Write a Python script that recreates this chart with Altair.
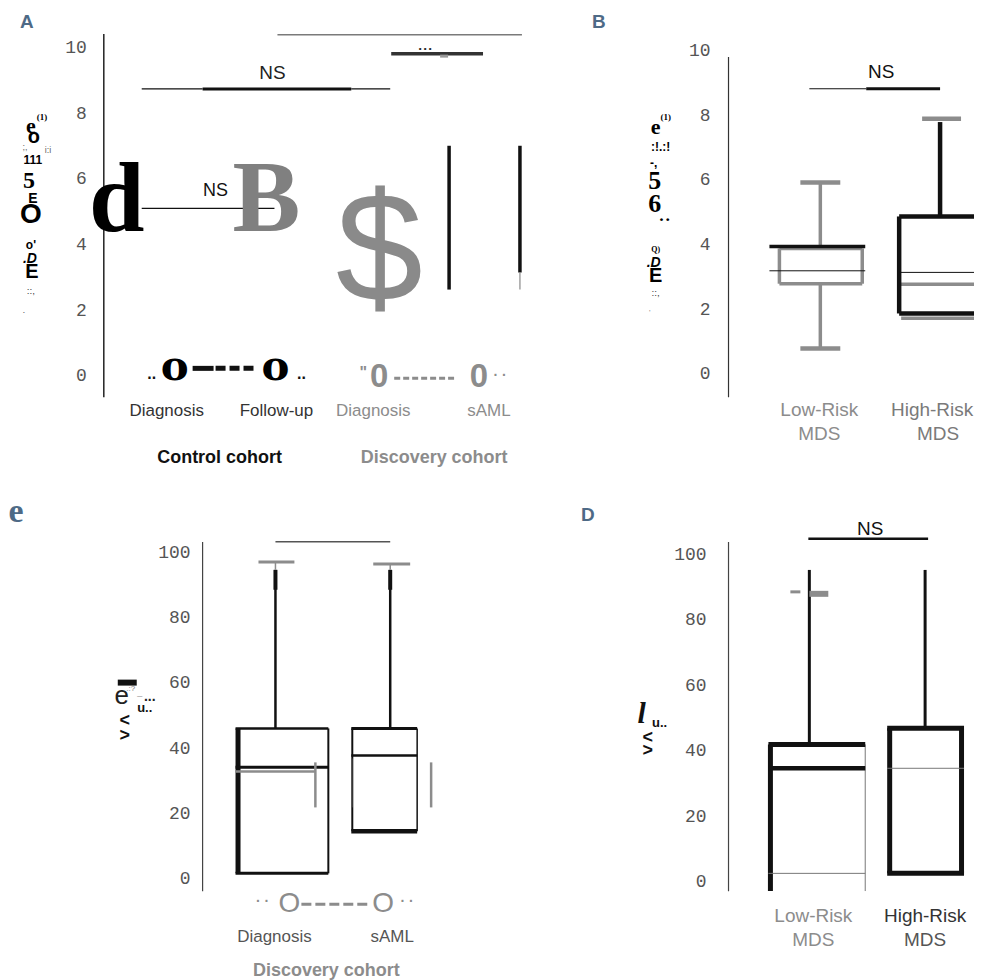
import altair as alt
import pandas as pd

SANS = "Liberation Sans"
SERIF = "Liberation Serif"
DSERIF = "DejaVu Serif"
MONO = "Liberation Mono"
BLUE = "#4e6a86"
GRAY = "#8c8c8c"
INK = "#111111"

# ---------------- values ----------------
# Panel A
A_TICKS = [0, 2, 4, 6, 8, 10]
A_GROUPS = ["Diagnosis", "Follow-up", "Diagnosis", "sAML"]
A_COHORTS = ["Control cohort", "Discovery cohort"]
A_DISC_HIGH = [7.02, 7.02]
A_DISC_SPLIT = [2.64, 3.16]
A_DISC_LOW = [2.64, 2.64]
A_CTRL_LEVEL = 0.24
A_DISC_LEVEL = -0.06
A_NS_INNER = 5.11
A_NS_OUTER = 8.75
A_SIG = 9.82
A_TOP = 10.40

# Panel B
B_TICKS = [0, 2, 4, 6, 8, 10]
B_GROUPS = [("Low-Risk", "MDS"), ("High-Risk", "MDS")]
B_Q1 = [2.80, 1.88]
B_Q3 = [3.89, 4.88]
B_MEDIAN = [3.20, 3.15]
B_LOW = [0.80, 1.73]
B_HIGH = [5.93, 7.80]
B_CAP_HIGH = [5.93, 7.90]
B_EXTRA_BLACK = 3.95
B_EXTRA_GRAY = 2.78
B_NS = 8.83

# Panel C
C_TICKS = [0, 20, 40, 60, 80, 100]
C_GROUPS = ["Diagnosis", "sAML"]
C_Q1 = [1.8, 14.7]
C_Q3 = [46.2, 46.2]
C_MEDIAN = [34.3, 37.9]
C_GRAY_MEDIAN = 33.0
C_HIGH = [94.8, 94.8]
C_THICK_END = [88.7, 88.7]
C_CAP = [97.2, 96.6]
C_GRAY_SEG = [35.8, 22.0]
C_BRACKET = 103.4

# Panel D
D_TICKS = [0, 20, 40, 60, 80, 100]
D_GROUPS = [("Low-Risk", "MDS"), ("High-Risk", "MDS")]
D_Q1 = [-2.7, 2.7]
D_Q3 = [42.1, 47.0]
D_MEDIAN = [34.8, 34.8]
D_LOW_LINE = 2.7
D_HIGH = [95.4, 95.4]
D_GRAY_CAP = [88.7, 88.1]
D_NS = 104.9

# ---------------- layout (panel frames: left, top, width, height, zero px, px per unit) ----
FA = (8, 8, 582, 472, 376, 32.9)
FB = (590, 8, 387, 472, 374, 32.4)
FC = (8, 480, 582, 492, 880, 3.27)
FD = (590, 480, 387, 492, 883, 3.28)


def conv(frame):
    z, k = frame[4], frame[5]
    return lambda p: (z - p) / k


def T(x, y, t, s, c, font=SANS, weight="normal", style="normal", align="center", baseline="middle"):
    return dict(x=x, y=y, t=t, s=s, c=c, font=font, weight=weight, style=style,
                align=align, baseline=baseline)


def R(x, x2, y, y2, c, w):
    return dict(x=x, x2=x2, y=y, y2=y2, c=c, w=w)


def H(x, x2, y, c, w):
    return R(x, x2, y, y, c, w)


def V(x, y, y2, c, w):
    return R(x, x, y, y2, c, w)


def panel(frame, rules, dashes, texts):
    ox, oy, W, Ht, z, k = frame
    xs = alt.Scale(domain=[ox, ox + W], nice=False, zero=False)
    ys = alt.Scale(domain=[(z - oy - Ht) / k, (z - oy) / k], nice=False, zero=False)
    layers = []
    rd = pd.DataFrame(rules)
    layers.append(alt.Chart(rd).mark_rule(strokeCap="butt").encode(
        x=alt.X("x:Q", scale=xs, axis=None), x2=alt.X2("x2"),
        y=alt.Y("y:Q", scale=ys, axis=None), y2=alt.Y2("y2"),
        color=alt.Color("c:N", scale=None),
        strokeWidth=alt.StrokeWidth("w:Q", scale=None)))
    for (x, x2, y, c, w, dash) in dashes:
        dd = pd.DataFrame([dict(x=x, x2=x2, y=y)])
        layers.append(alt.Chart(dd).mark_rule(strokeDash=dash, color=c, strokeWidth=w).encode(
            x=alt.X("x:Q", scale=xs, axis=None), x2=alt.X2("x2"),
            y=alt.Y("y:Q", scale=ys, axis=None)))
    td = pd.DataFrame(texts)
    for key, g in td.groupby(["font", "weight", "style", "align", "baseline"]):
        f, wgt, st, al, bl = key
        layers.append(alt.Chart(g[["x", "y", "t", "s", "c"]]).mark_text(
            font=f, fontWeight=wgt, fontStyle=st, align=al, baseline=bl).encode(
            x=alt.X("x:Q", scale=xs, axis=None), y=alt.Y("y:Q", scale=ys, axis=None),
            text="t:N", size=alt.Size("s:Q", scale=None), color=alt.Color("c:N", scale=None)))
    return alt.layer(*layers).properties(width=W, height=Ht)


# ================= Panel A =================
va = conv(FA)
ra = [
    V(104, va(33), va(397), "#222", 1.5),
    H(142, 275, A_NS_INNER, INK, 1.2),
    H(142, 203, A_NS_OUTER, INK, 1.2), H(203, 352, A_NS_OUTER, INK, 3), H(352, 391, A_NS_OUTER, INK, 1.2),
    H(278, 523, A_TOP, "#7a7a7a", 1.5),
    H(392, 484, A_SIG, "#333", 3.5), H(441, 449, A_SIG - 0.07, "#999", 3),
    H(193, 214, A_CTRL_LEVEL, INK, 5),
]
for i, x in enumerate([450, 521]):
    ra.append(V(x, A_DISC_HIGH[i], A_DISC_SPLIT[i], INK, 3.5))
    if A_DISC_SPLIT[i] > A_DISC_LOW[i]:
        ra.append(V(x, A_DISC_SPLIT[i], A_DISC_LOW[i], "#888", 1.2))
da = [(216, 258, A_CTRL_LEVEL, INK, 5, [10, 4]), (395, 458, A_DISC_LEVEL, GRAY, 3, [6, 3])]
ta = [T(87, t, str(t), 18, "#555", MONO, align="right") for t in A_TICKS]
ta += [
    T(27, va(21), "A", 19, BLUE, SANS, "bold"),
    T(117, va(230), "d", 100, "#000", SERIF, "bold", baseline="alphabetic"),
    T(267, va(230), "B", 102, "#808080", SERIF, "bold", baseline="alphabetic"),
    T(380, va(301), "$", 157, "#8a8a8a", SANS, baseline="alphabetic"),
    T(216, va(190), "NS", 18, INK),
    T(273, va(72), "NS", 19, "#222"),
    T(426, va(48), "•  •  •", 8, "#222", SANS, "bold"),
    T(175, va(380), "o", 42, "#000", DSERIF, "bold", baseline="alphabetic"),
    T(276, va(380), "o", 42, "#000", DSERIF, "bold", baseline="alphabetic"),
    T(152, va(379), "..", 16, INK, SANS, "bold", baseline="alphabetic"),
    T(302, va(379), "..", 16, INK, SANS, "bold", baseline="alphabetic"),
    T(364, va(378), '"', 16, GRAY, SANS, "bold", baseline="alphabetic"),
    T(380, va(387), "0", 33, GRAY, SANS, "bold", baseline="alphabetic"),
    T(480, va(387), "0", 33, GRAY, SANS, "bold", baseline="alphabetic"),
    T(501, va(376), "· ·", 14, GRAY, SANS, "bold"),
]
for x, g, c in zip([167, 277, 374, 490], A_GROUPS, ["#333", "#333", GRAY, GRAY]):
    ta.append(T(x, va(416), g, 17, c, baseline="alphabetic"))
ta.append(T(220, va(463), A_COHORTS[0], 18, INK, SANS, "bold", baseline="alphabetic"))
ta.append(T(435, va(463), A_COHORTS[1], 18, GRAY, SANS, "bold", baseline="alphabetic"))
ta += [
    T(31, va(132), "e", 22, "#000", SERIF, "bold", baseline="alphabetic"),
    T(42, va(116), "(1)", 9, "#000", SERIF, "bold"),
    T(34, va(142), "o", 20, "#000", SANS, "bold", baseline="alphabetic"),
    T(25, va(146), ";,", 9, "#666"),
    T(48, va(149), "i:i", 9, "#666"),
    T(33, va(163), "111", 12, "#000", SANS, "bold", baseline="alphabetic"),
    T(29, va(187), "5", 24, "#000", SERIF, "bold", baseline="alphabetic"),
    T(33, va(202), "E", 14, "#000", SANS, "bold", baseline="alphabetic"),
    T(31, va(222), "O", 28, "#000", SANS, "bold", baseline="alphabetic"),
    T(31, va(244), "o'", 12, "#000", SANS, "bold"),
    T(30, va(263), ".D", 14, "#000", SANS, "bold", "italic", baseline="alphabetic"),
    T(32, va(278), "E", 20, "#000", SANS, "bold", baseline="alphabetic"),
    T(31, va(291), "::,", 10, "#444"),
    T(24, va(310), ".", 10, "#666"),
]
pA = panel(FA, ra, da, ta)

# ================= Panel B =================
vb = conv(FB)
rb = [V(730, vb(56), vb(397), "#333", 1.2)]
# Low-Risk (gray box)
L0, L1, LX = 781, 864, 822
rb += [
    H(L0, L1, B_Q3[0], GRAY, 3.5), H(L0, L1, B_Q1[0], GRAY, 3.5),
    V(L0, B_Q1[0], B_Q3[0], GRAY, 3.5), V(L1, B_Q1[0], B_Q3[0], GRAY, 3.5),
    V(LX, B_EXTRA_BLACK, B_HIGH[0], GRAY, 3.5), H(802, 842, B_CAP_HIGH[0], GRAY, 4.5),
    V(LX, B_Q1[0], B_LOW[0], GRAY, 3.5), H(802, 842, B_LOW[0], GRAY, 4.5),
    H(771, 867, B_EXTRA_BLACK, INK, 3.5),
    H(771, 867, B_MEDIAN[0], INK, 1),
]
# High-Risk (black box, cut at the right border)
H0, H1, HX = 901, 976, 942
rb += [
    H(H0 + 2, H1, B_LOW[1], GRAY, 3.5),
    H(H0, H1, B_EXTRA_GRAY, GRAY, 3.5),
    H(H0, H1, B_Q3[1], INK, 4.5), H(H0, H1, B_Q1[1], INK, 4.5),
    V(H0, B_Q1[1], B_Q3[1], INK, 4.5),
    H(H0, H1, B_MEDIAN[1], INK, 1),
    V(HX, B_Q3[1], B_HIGH[1], INK, 4.5), H(924, 963, B_CAP_HIGH[1], GRAY, 4.5),
    H(811, 868, B_NS, INK, 1.2), H(868, 942, B_NS, INK, 3),
]
tb = [T(712, t, str(t), 18, "#555", MONO, align="right") for t in B_TICKS]
tb += [
    T(600, vb(21), "B", 19, BLUE, SANS, "bold"),
    T(883, vb(71), "NS", 19, INK),
    T(821, vb(416), B_GROUPS[0][0], 19, GRAY, baseline="alphabetic"),
    T(821, vb(440), B_GROUPS[0][1], 19, GRAY, baseline="alphabetic"),
    T(934, vb(416), B_GROUPS[1][0], 19, "#7a7a7a", baseline="alphabetic"),
    T(940, vb(440), B_GROUPS[1][1], 19, "#7a7a7a", baseline="alphabetic"),
    T(657, vb(133), "e", 22, "#000", SERIF, "bold", baseline="alphabetic"),
    T(667, vb(116), "(1)", 9, "#000", SERIF, "bold"),
    T(662, vb(150), ":!.:!", 12, "#000", SANS, "bold", baseline="alphabetic"),
    T(655, vb(166), "-,", 12, "#000", SANS, "bold", baseline="alphabetic"),
    T(656, vb(188), "5", 26, "#000", SERIF, "bold", baseline="alphabetic"),
    T(656, vb(211), "6", 26, "#000", SERIF, "bold", baseline="alphabetic"),
    T(666, vb(219), "•  •", 10, "#000", SANS, "bold"),
    T(657, vb(249), "Q)", 8, "#000", SERIF, "bold"),
    T(655, vb(267), ".D", 14, "#000", SANS, "bold", "italic", baseline="alphabetic"),
    T(657, vb(282), "E", 20, "#000", SANS, "bold", baseline="alphabetic"),
    T(657, vb(293), "::,", 10, "#444"),
    T(651, vb(313), "'", 8, "#888"),
]
pB = panel(FB, rb, [], tb)

# ================= Panel C =================
vc = conv(FC)
rc = [V(203, vc(542), vc(892), "#444", 1.2), H(276, 391, C_BRACKET, "#555", 1.5)]
boxes_c = [(236, 329, 276, [2.5, 3, 5, 2], 259, 295), (352, 418, 391, [3, 4.5, 2, 1.5], 374, 411)]
for i, (x0, x1, xm, w, c0, c1) in enumerate(boxes_c):
    rc += [
        H(x0, x1, C_Q3[i], INK, w[0]), H(x0, x1, C_Q1[i], INK, w[1]),
        V(x0 + w[2] / 2, C_Q1[i], C_Q3[i], INK, w[2]), V(x1, C_Q1[i], C_Q3[i], INK, w[3]),
        V(xm, C_Q3[i], C_HIGH[i], INK, 2.5), V(xm, C_HIGH[i], C_THICK_END[i], INK, 4),
        V(xm, C_CAP[i], C_HIGH[i], GRAY, 1.5), H(c0, c1, C_CAP[i], GRAY, 3),
    ]
rc += [
    H(236, 316, C_GRAY_MEDIAN, GRAY, 2.5),
    H(236, 329, C_MEDIAN[0], INK, 3), H(352, 418, C_MEDIAN[1], INK, 2.5),
    V(316, C_GRAY_SEG[0], C_GRAY_SEG[1], GRAY, 2.5), V(432, C_GRAY_SEG[0], C_GRAY_SEG[1], GRAY, 2.5),
    V(354, 37.0, 22.0, "#bbbbbb", 1),
    H(118, 137, vc(683), INK, 6),
]
dc = [(302, 372, vc(905), GRAY, 3, [10, 4])]
tc = [T(191, t, str(t), 18, "#555", MONO, align="right") for t in C_TICKS]
tc += [
    T(16, vc(522), "e", 34, BLUE, SERIF, "bold", baseline="alphabetic"),
    T(263, vc(903), "· ·", 14, GRAY, SANS, "bold"),
    T(290, vc(913), "O", 28, GRAY, baseline="alphabetic"),
    T(384, vc(913), "O", 28, GRAY, baseline="alphabetic"),
    T(408, vc(903), "· ·", 14, GRAY, SANS, "bold"),
    T(275, vc(943), C_GROUPS[0], 17, "#555", baseline="alphabetic"),
    T(393, vc(943), C_GROUPS[1], 17, "#555", baseline="alphabetic"),
    T(327, vc(977), "Discovery cohort", 18, GRAY, SANS, "bold", baseline="alphabetic"),
    T(122, vc(704), "e", 26, "#222", baseline="alphabetic"),
    T(131, vc(689), ".:?", 8, "#777"),
    T(140, vc(692), "_", 9, "#999"),
    T(150, vc(701), "...", 14, "#222", SANS, "bold", baseline="alphabetic"),
    T(145, vc(712), "u..", 13, "#111", SANS, "bold", baseline="alphabetic"),
    T(125, vc(721), "<", 18, "#111", SANS, "bold"),
    T(125, vc(737), ">", 18, "#111", SANS, "bold"),
]
pC = panel(FC, rc, dc, tc)

# ================= Panel D =================
vd = conv(FD)
rd_ = [
    V(730, vd(542), vd(892), "#444", 1.2),
    H(810, 930, D_NS, INK, 2.5),
    # Low-Risk
    V(772, D_Q1[0], D_Q3[0], INK, 5), V(867, D_Q1[0], D_Q3[0], "#777", 1),
    H(770, 867, D_Q3[0], INK, 5), H(770, 867, D_MEDIAN[0], INK, 4.5),
    H(770, 867, D_LOW_LINE, "#777", 1),
    V(811, D_Q3[0], D_HIGH[0], INK, 3),
    H(792, 802, D_GRAY_CAP[0], GRAY, 3), H(811, 830, D_GRAY_CAP[1], GRAY, 6),
    # High-Risk
    H(889, 966, D_Q3[1], INK, 5), H(889, 966, D_Q1[1], INK, 5),
    V(891.5, D_Q1[1], D_Q3[1], INK, 5), V(963.5, D_Q1[1], D_Q3[1], INK, 5),
    H(889, 966, D_MEDIAN[1], "#777", 1),
    V(927, D_Q3[1], D_HIGH[1], INK, 3),
]
td_ = [T(708, t, str(t), 18, "#555", MONO, align="right") for t in D_TICKS]
td_ += [
    T(589, vd(515), "D", 19, BLUE, SANS, "bold"),
    T(872, vd(529), "NS", 19, INK),
    T(815, vd(923), D_GROUPS[0][0], 19, GRAY, baseline="alphabetic"),
    T(815, vd(947), D_GROUPS[0][1], 19, GRAY, baseline="alphabetic"),
    T(927, vd(923), D_GROUPS[1][0], 19, "#333", baseline="alphabetic"),
    T(927, vd(947), D_GROUPS[1][1], 19, "#555", baseline="alphabetic"),
    T(643, vd(723), "l", 30, INK, SERIF, "bold", "italic", baseline="alphabetic"),
    T(661, vd(727), "u..", 13, INK, SANS, "bold", baseline="alphabetic"),
    T(649, vd(739), "<", 18, INK, SANS, "bold"),
    T(649, vd(752), ">", 18, INK, SANS, "bold"),
]
pD = panel(FD, rd_, [], td_)

chart = alt.concat(pA, pB, pC, pD, columns=2, spacing=0, bounds="flush").properties(
    padding=0, background="white").configure_view(stroke=None)

chart.save("out.html", embed_options={"renderer": "svg", "actions": False})
